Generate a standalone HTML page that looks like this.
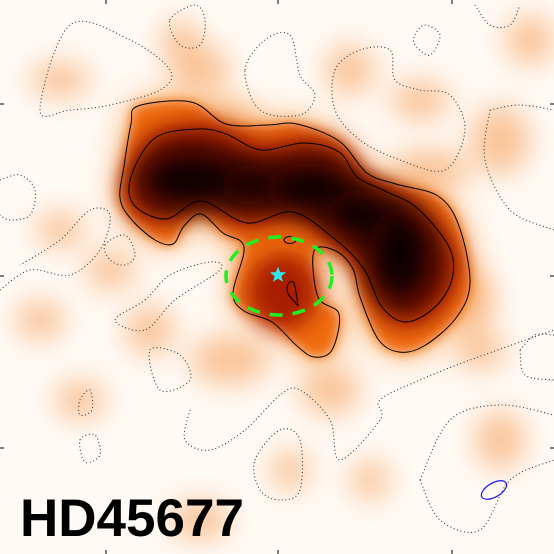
<!DOCTYPE html>
<html><head><meta charset="utf-8"><style>
html,body{margin:0;padding:0;background:#fff;}
svg{display:block;}
</style></head><body>
<svg width="554" height="554" viewBox="0 0 554 554">
<defs>
<filter id="b6" x="-50%" y="-50%" width="200%" height="200%"><feGaussianBlur stdDeviation="6"/></filter>
<filter id="b10" x="-50%" y="-50%" width="200%" height="200%"><feGaussianBlur stdDeviation="11"/></filter>
<filter id="b14" x="-50%" y="-50%" width="200%" height="200%"><feGaussianBlur stdDeviation="14"/></filter>
<filter id="b20" x="-50%" y="-50%" width="200%" height="200%"><feGaussianBlur stdDeviation="18"/></filter>
<clipPath id="frame"><rect x="0" y="0" width="554" height="554"/></clipPath>
</defs>
<g clip-path="url(#frame)">
<rect x="0" y="0" width="554" height="554" fill="#fffaf5"/>
<g id="faint" filter="url(#b14)"></g>
<g id="mid"></g>
<g id="dotted" fill="none" stroke="#333" stroke-width="1.1" stroke-dasharray="1 2.6"></g>
<g id="solid" fill="none" stroke="#000" stroke-width="1"></g>
<ellipse cx="279" cy="276" rx="53" ry="39" fill="none" stroke="#22ee22" stroke-width="3.5" stroke-dasharray="13 10"/>
<polygon id="star" fill="#33e6ee"/>
<ellipse cx="494" cy="490" rx="14" ry="7" transform="rotate(-30 494 490)" fill="none" stroke="#1a1aee" stroke-width="1.2"/>
<text x="20" y="536" font-family="Liberation Sans, sans-serif" font-weight="bold" font-size="53" fill="#000">HD45677</text>
<g id="ticks" stroke="#000" stroke-width="1"></g>
</g>
</svg>
<script>
const NS='http://www.w3.org/2000/svg';
const faintBlobs=[[60,80,30,18],[180,40,20,20],[60,230,25,18],[110,270,25,20],[200,70,30,25],[350,70,25,25],[420,100,30,20],[500,140,30,35],[530,40,25,25],[40,320,25,20],[150,330,25,25],[230,360,40,25],[330,390,30,25],[480,350,25,20],[500,440,25,30],[290,470,20,20],[430,170,40,20],[80,400,25,20],[200,520,30,20],[370,480,20,20],[230,120,30,20],[470,300,25,30]];
const outerC=[[138,106],[191,102],[226,124],[268,125],[297,124],[339,141],[367,173],[396,184],[438,196],[459,226],[470,283],[456,318],[424,346],[399,352],[378,339],[360,297],[353,269],[336,251],[314,251],[318,297],[339,314],[332,350],[314,357],[297,346],[272,322],[244,311],[233,293],[244,247],[223,233],[201,214],[184,226],[173,244],[155,240],[131,219],[120,198],[124,166],[131,124]];
const innerC=[[131,177],[155,138],[198,129],[226,134],[261,150],[304,143],[339,152],[357,177],[385,191],[417,208],[449,247],[452,279],[435,307],[406,322],[382,307],[364,269],[336,240],[293,212],[247,223],[201,201],[166,219],[134,205]];
const cores=[[190,180,50,28],[250,185,30,20],[310,188,45,25],[360,215,35,25],[400,255,32,48]];
const dottedC=[
[[40,110],[70,25],[130,40],[170,70],[160,90],[110,105],[70,110],[40,110]],
[[170,20],[195,5],[205,20],[200,45],[180,45],[170,20]],
[[245,70],[265,40],[290,35],[300,75],[315,95],[300,115],[260,110],[245,70]],
[[335,70],[360,50],[390,50],[395,80],[420,90],[450,95],[465,130],[445,170],[400,160],[360,140],[335,110],[335,70]],
[[415,35],[425,25],[440,35],[430,55],[415,45],[415,35]],
[[490,110],[520,105],[554,110]],[[490,110],[485,160],[510,210],[554,230]],
[[0,180],[20,175],[35,190],[30,215],[10,220],[0,215]],
[[0,290],[30,270],[70,275],[100,250],[110,215],[90,210],[60,240],[20,265]],
[[105,245],[125,235],[135,255],[125,265],[110,260],[105,245]],
[[145,300],[170,275],[210,262],[220,270],[175,300],[145,330],[115,320],[145,300]],
[[150,350],[180,355],[190,380],[160,390],[150,350]],
[[190,410],[185,440],[210,450],[245,430],[280,395],[300,390],[330,420],[340,460],[380,420],[380,400],[420,380],[470,360],[554,330]],
[[80,400],[90,390],[92,410],[80,415],[80,400]],
[[80,440],[95,435],[100,455],[85,462],[80,440]],
[[255,460],[280,430],[300,440],[300,490],[280,500],[260,490],[255,460]],
[[420,480],[450,420],[500,405],[554,415]],[[420,480],[440,520],[480,530],[510,480],[554,460]],
[[520,350],[535,335],[554,335]],[[520,350],[525,375],[554,380]],
[[475,5],[490,25],[510,25],[520,5]]
];
const tickX=[106,278,452];
const tickY=[104,276,448];
function pathFrom(pts,close){
  const n=pts.length;let d='M'+pts[0][0]+','+pts[0][1];
  for(let i=0;i<n-(close?0:1);i++){
    const p0=pts[(i-1+n)%n],p1=pts[i],p2=pts[(i+1)%n],p3=pts[(i+2)%n];
    const a=close||i>0?p0:p1, b=close||i<n-2?p3:p2;
    d+=' C'+(p1[0]+(p2[0]-a[0])/6)+','+(p1[1]+(p2[1]-a[1])/6)+' '+(p2[0]-(b[0]-p1[0])/6)+','+(p2[1]-(b[1]-p1[1])/6)+' '+p2[0]+','+p2[1];
  }
  return d+(close?' Z':'');
}
const faint=document.getElementById('faint');
faintBlobs.forEach(b=>{const e=document.createElementNS(NS,'ellipse');
e.setAttribute('cx',b[0]);e.setAttribute('cy',b[1]);e.setAttribute('rx',b[2]);e.setAttribute('ry',b[3]);e.setAttribute('fill','#f8b27a');e.setAttribute('opacity','0.75');


faint.appendChild(e);});
const mid=document.getElementById('mid');
function addPath(parent,d,fill,filter,name){const p=document.createElementNS(NS,'path');p.setAttribute('d',d);p.setAttribute('fill',fill);if(filter)p.setAttribute('filter',filter);


parent.appendChild(p);return p;}
addPath(mid,pathFrom(outerC,true),'#f89a45','url(#b20)','outer-halo');
addPath(mid,pathFrom(outerC,true),'#f06c08','url(#b6)','outer-region');
addPath(mid,pathFrom(innerC,true),'#b82800','url(#b10)','middle-region');
addPath(mid,pathFrom(innerC,true),'#7a0800','url(#b14)','inner-region');
const sb=document.createElementNS(NS,'ellipse');sb.setAttribute('cx',283);sb.setAttribute('cy',292);sb.setAttribute('rx',35);sb.setAttribute('ry',38);sb.setAttribute('fill','#a81c00');sb.setAttribute('filter','url(#b10)');


mid.appendChild(sb);
cores.forEach(c=>{const e=document.createElementNS(NS,'ellipse');
e.setAttribute('cx',c[0]);e.setAttribute('cy',c[1]);e.setAttribute('rx',c[2]);e.setAttribute('ry',c[3]);e.setAttribute('fill','#100000');e.setAttribute('filter','url(#b14)');


mid.appendChild(e);});
const dotted=document.getElementById('dotted');
dottedC.forEach(c=>{const closed=c[0][0]===c[c.length-1][0]&&c[0][1]===c[c.length-1][1];
const pts=closed?c.slice(0,-1):c;const p=document.createElementNS(NS,'path');p.setAttribute('d',pathFrom(pts,closed));


dotted.appendChild(p);});
const solid=document.getElementById('solid');
[outerC,innerC].forEach(c=>{const p=document.createElementNS(NS,'path');p.setAttribute('d',pathFrom(c,true));


solid.appendChild(p);});
const s1=document.createElementNS(NS,'ellipse');s1.setAttribute('cx',290);s1.setAttribute('cy',240);s1.setAttribute('rx',6);s1.setAttribute('ry',3.5);


solid.appendChild(s1);
const s2=document.createElementNS(NS,'path');s2.setAttribute('d','M298,306 C294,300 287,296 287,289 C287,283 292,279 294,283 C296,290 297,298 298,306 Z');


solid.appendChild(s2);
const st=document.getElementById('star');let sp=[];for(let i=0;i<10;i++){const r=i%2?3.6:8.5,a=-Math.PI/2+i*Math.PI/5;sp.push((278+r*Math.cos(a)).toFixed(1)+','+(275+r*Math.sin(a)).toFixed(1));}
st.setAttribute('points',sp.join(' '));
const ticks=document.getElementById('ticks');
function line(x1,y1,x2,y2){const l=document.createElementNS(NS,'line');l.setAttribute('x1',x1);l.setAttribute('y1',y1);l.setAttribute('x2',x2);l.setAttribute('y2',y2);


ticks.appendChild(l);}
tickX.forEach(x=>{line(x,0,x,4);line(x,550,x,554);});
tickY.forEach(y=>{line(0,y,4,y);line(550,y,554,y);});
</script>
</body></html>
